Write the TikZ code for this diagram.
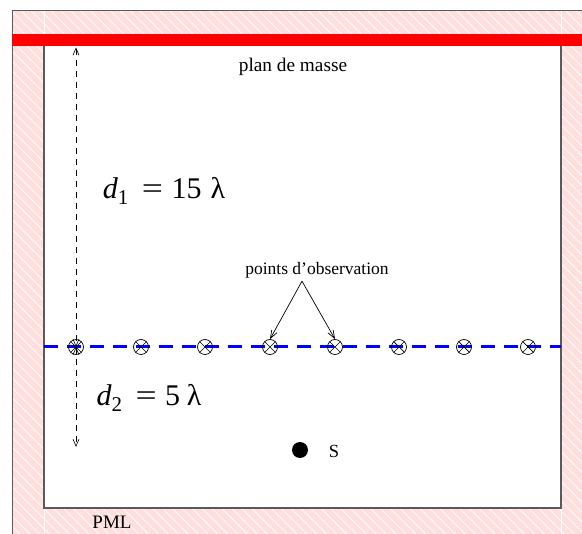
\documentclass[tikz,border=0pt]{standalone}
\usepackage{fontspec}
\setmainfont{Liberation Serif}
\usetikzlibrary{patterns.meta,arrows.meta}
\definecolor{pmlpink}{RGB}{255,222,222}
\definecolor{frame}{RGB}{90,90,90}
\newcommand{\subsc}[1]{\raisebox{-0.22em}{\fontsize{21}{22}\selectfont #1}}
\newcommand{\wideeq}{\scalebox{1.25}[1]{=}}
\tikzset{
  small/.style={font=\fontsize{17.5}{19}\selectfont, inner sep=0pt},
  big/.style={font=\fontsize{30}{32}\selectfont, inner sep=0pt},
  obs/.style={circle, draw=black, line width=0.7pt, minimum size=15pt, inner sep=0pt,
    path picture={\draw[line width=0.7pt] (path picture bounding box.north west) -- (path picture bounding box.south east)
      (path picture bounding box.north east) -- (path picture bounding box.south west);}},
  dim/.style={dash pattern=on 6pt off 5pt, line width=0.6pt, {Straight Barb[length=7pt,width=6pt]}-{Straight Barb[length=7pt,width=6pt]}},
  pointer/.style={line width=0.7pt, -{Straight Barb[length=8pt,width=6pt]}},
}
\begin{document}
\begin{tikzpicture}[x=1pt,y=-1pt]
\useasboundingbox (0,0) rectangle (582,534);
% PML region
\fill[pmlpink] (12,11) rectangle (582,534);
\fill[pattern={Lines[angle=-45,distance=7pt,line width=0.8pt]}, pattern color=white] (12,11) rectangle (582,534);
\draw[white, line width=0.8pt] (44,11) -- (44,534) (561,11) -- (561,534);
\draw[frame, line width=1pt] (582,11) -- (12,11) -- (12,534);
% ground plane
\fill[red] (12,34) rectangle (582,46.5);
% computational domain
\fill[white] (44,46.5) rectangle (561,508);
\draw[frame, line width=1.5pt] (44,46.5) -- (44,508) -- (561,508) -- (561,46.5);
% observation line
\coordinate (bl) at (44,347);
\coordinate (br) at (561,347);
\draw[blue, line width=3pt, dash pattern=on 14pt off 9pt] (bl) -- (br);
\foreach \i/\x in {1/76,2/141,3/205,4/270,5/335,6/399,7/464,8/528}
  \node[obs] (p\i) at (\x,347) {};
% distances
\coordinate (top) at (76,47.5);
\coordinate (bot) at (76,447);
\draw[dim] (top) -- (p1.center);
\draw[dim] (p1.center) -- (bot);
% labels
\node[small, font=\fontsize{19.3}{21}\selectfont] (plan) at (293,67) {plan de masse};
\node[big] (d1) at (164,191) {\textit{d}\subsc{1}\hspace{0.45em}\wideeq\hspace{0.28em}15\hspace{0.3em}λ};
\node[big] (d2) at (149,398) {\textit{d}\subsc{2}\hspace{0.45em}\wideeq\hspace{0.28em}5\hspace{0.22em}λ};
\node[small] (po) at (317,270) {points d’observation};
\draw[pointer] ([xshift=-15pt,yshift=-3pt]po.south) -- (p4.north);
\draw[pointer] ([xshift=-15pt,yshift=-3pt]po.south) -- (p5.north);
\node[circle, fill=black, minimum size=16pt, inner sep=0pt] (s) at (300,450) {};
\node[small, font=\fontsize{18.5}{20}\selectfont] (slab) at (334,451) {S};
\node[small, font=\fontsize{19}{20}\selectfont] (pml) at (112,522) {PML};
\end{tikzpicture}
\end{document}
